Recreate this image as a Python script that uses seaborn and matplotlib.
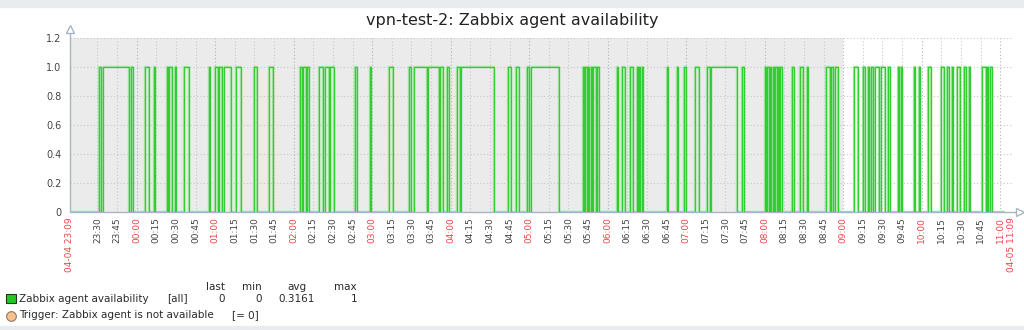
import matplotlib
matplotlib.use("Agg")
import numpy as np
import pandas as pd
import matplotlib.pyplot as plt
import seaborn as sns
from matplotlib.patches import Rectangle
from matplotlib.lines import Line2D
import matplotlib.dates as mdates

sns.set_theme(style="white")
plt.rcParams["font.family"] = ["DejaVu Sans"]

# ---------------- data ----------------
title = "vpn-test-2: Zabbix agent availability"
period_start = "23:09"
period_end = "11:09"
data_end = "11:03"
work_start = "09:00"

up_start = ["23:31", "23:34", "23:56", "00:06", "00:13", "00:23", "00:25", "00:29", "00:36", "00:55",
            "01:00", "01:03", "01:07", "01:16", "01:30", "01:41", "02:05", "02:07", "02:10", "02:19",
            "02:24", "02:28", "02:47", "02:58", "03:13", "03:28", "03:32", "03:43", "03:52", "03:57",
            "04:05", "04:08", "04:44", "04:50", "04:58", "05:01", "05:41", "05:43", "05:45", "05:47",
            "05:49", "05:52", "06:07", "06:11", "06:17", "06:22", "06:24", "06:26", "06:45", "06:53",
            "06:58", "07:07", "07:16", "07:19", "07:43", "08:00", "08:02", "08:04", "08:06", "08:08",
            "08:10", "08:12", "08:21", "08:27", "08:32", "08:47", "08:51", "08:54", "09:08", "09:15",
            "09:19", "09:21", "09:24", "09:29", "09:34", "09:42", "09:44", "09:54", "09:58", "10:05",
            "10:15", "10:19", "10:23", "10:27", "10:32", "10:36", "10:46", "10:50", "10:52"]
up_end = ["23:33", "23:54", "23:57", "00:09", "00:14", "00:24", "00:27", "00:30", "00:40", "00:56",
          "01:02", "01:05", "01:12", "01:20", "01:32", "01:44", "02:06", "02:09", "02:12", "02:22",
          "02:27", "02:31", "02:48", "02:59", "03:16", "03:30", "03:42", "03:51", "03:54", "03:59",
          "04:07", "04:33", "04:46", "04:52", "05:00", "05:23", "05:42", "05:44", "05:46", "05:48",
          "05:51", "05:53", "06:08", "06:13", "06:19", "06:23", "06:25", "06:27", "06:46", "06:54",
          "07:00", "07:10", "07:18", "07:39", "07:44", "08:01", "08:03", "08:05", "08:07", "08:09",
          "08:11", "08:13", "08:22", "08:29", "08:33", "08:50", "08:52", "08:56", "09:11", "09:17",
          "09:20", "09:23", "09:27", "09:32", "09:36", "09:43", "09:45", "09:55", "09:59", "10:07",
          "10:17", "10:21", "10:24", "10:29", "10:34", "10:37", "10:49", "10:51", "10:54"]

legend_item = "Zabbix agent availability"
legend_func = "[all]"
stat_names = ["last", "min", "avg", "max"]
stat_values = ["0", "0", "0.3161", "1"]
trigger_text = "Trigger: Zabbix agent is not available"
trigger_cond = "[= 0]"

y_ticks = [0, 0.2, 0.4, 0.6, 0.8, 1.0, 1.2]
y_labels = ["0", "0.2", "0.4", "0.6", "0.8", "1.0", "1.2"]


def to_ts(s):
    h, m = map(int, s.split(":"))
    day = 4 if h >= 23 else 5
    return pd.Timestamp(2019, 4, day, h, m)


# build step series
times = [to_ts(period_start)]
vals = [0]
for s, e in zip(up_start, up_end):
    times += [to_ts(s), to_ts(e)]
    vals += [1, 0]
times.append(to_ts(data_end))
vals.append(0)
df = pd.DataFrame({"time": times, "value": vals})

t0 = to_ts(period_start)
t1 = to_ts(period_end)

# ---------------- figure ----------------
W, H = 1024, 330
fig = plt.figure(figsize=(W / 100, H / 100), dpi=100)
fig.patch.set_facecolor("white")
fig.patches.append(Rectangle((0, 1 - 7 / H), 1, 7 / H, transform=fig.transFigure,
                             color="#e9ecef", zorder=0))
fig.patches.append(Rectangle((0, 0), 1, 4 / H, transform=fig.transFigure,
                             color="#e9ecef", zorder=0))

left, right, bottom, top = 70, 1012, 212, 38
ax = fig.add_axes([left / W, 1 - bottom / H, (right - left) / W, (bottom - top) / H])
ax.set_facecolor("white")
for sp in ax.spines.values():
    sp.set_visible(False)

ax.set_xlim(t0, t1)
ax.set_ylim(0, 1.2)

# non-working time shading
ax.axvspan(t0, to_ts(work_start), color="#ebebeb", zorder=0, lw=0)

# grid
for yv in y_ticks[1:]:
    ax.axhline(yv, color="#c8c8c8", lw=0.8, ls=(0, (1, 2)), zorder=1)

xt = list(pd.date_range(to_ts("23:30"), to_ts("11:00"), freq="15min"))
xlabels = [t.strftime("%H:%M") for t in xt]
for t in xt + [t1]:
    if t.minute == 0:
        ax.axvline(t, color="#a9b4bf", lw=0.8, ls=(0, (1, 2)), zorder=1)
    else:
        ax.axvline(t, color="#c8c8c8", lw=0.8, ls=(0, (1, 2)), zorder=1)

# series (light envelope + main line)
sns.lineplot(data=df, x="time", y="value", ax=ax, drawstyle="steps-post",
             color="#a6e6a6", lw=1.7, zorder=2, legend=False)
sns.lineplot(data=df, x="time", y="value", ax=ax, drawstyle="steps-post",
             color="#33cc33", lw=0.9, zorder=3, legend=False)
ax.set_xlabel("")
ax.set_ylabel("")

# axes lines with arrows
axis_col = "#a9b5c1"
ax.plot([0, 0], [0, 1.05], transform=ax.transAxes, color=axis_col, lw=1, clip_on=False, zorder=4)
ax.plot([0], [1.05], transform=ax.transAxes, marker="^", ms=6, mfc="white", mec=axis_col,
        clip_on=False, zorder=5)
ax.plot([0, 1.0075], [0, 0], transform=ax.transAxes, color=axis_col, lw=1, clip_on=False, zorder=2)
ax.plot([1.0085], [0], transform=ax.transAxes, marker=">", ms=6, mfc="white", mec=axis_col,
        clip_on=False, zorder=5)

# ticks
ax.set_yticks(y_ticks)
ax.set_yticklabels(y_labels)
all_xt = [t0] + xt + [t1]
all_xl = ["04-04 23:09"] + xlabels + ["04-05 11:09"]
ax.set_xticks(all_xt)
ax.set_xticklabels(all_xl, rotation=90, ha="center", va="top")
ax.tick_params(axis="both", length=0)
ax.tick_params(axis="y", labelsize=7, pad=6, labelcolor="#444444")
ax.tick_params(axis="x", labelsize=6.5, pad=4)
for lbl, t in zip(ax.get_xticklabels(), all_xt):
    if t.minute == 0 or t == t0 or t == t1:
        lbl.set_color("#ee4444")
    else:
        lbl.set_color("#444444")

# title
fig.text(512 / W, 1 - 21 / H, title, ha="center", va="center", fontsize=11.5, color="#222222")

# legend area
txt_col = "#2a2a2a"
fs = 7.5
y_head = 1 - 287 / H
y_item = 1 - 298.5 / H
y_trig = 1 - 315.5 / H
stat_right = [225, 262, 315, 357]
head_right = [225, 262, 307, 357]
for name, xr in zip(stat_names, head_right):
    fig.text(xr / W, y_head, name, ha="right", va="center", fontsize=fs, color=txt_col)
for v, xr in zip(stat_values, stat_right):
    fig.text(xr / W, y_item, v, ha="right", va="center", fontsize=fs, color=txt_col)

fig.patches.append(Rectangle((6 / W, 1 - 303 / H), 10 / W, 9 / H, transform=fig.transFigure,
                             facecolor="#22c822", edgecolor="#1a3a1a", lw=0.8, zorder=3))
fig.text(19 / W, y_item, legend_item, ha="left", va="center", fontsize=fs, color=txt_col)
fig.text(167 / W, y_item, legend_func, ha="left", va="center", fontsize=fs, color=txt_col)

fig.add_artist(Line2D([10.5 / W], [y_trig], marker="o", ms=7, mfc="#f7c08c", mec="#8a7a6a",
                      mew=0.8, transform=fig.transFigure))
fig.text(19 / W, y_trig, trigger_text, ha="left", va="center", fontsize=fs, color=txt_col)
fig.text(232 / W, y_trig, trigger_cond, ha="left", va="center", fontsize=fs, color=txt_col)

fig.savefig("out.png", dpi=100, facecolor="white")
